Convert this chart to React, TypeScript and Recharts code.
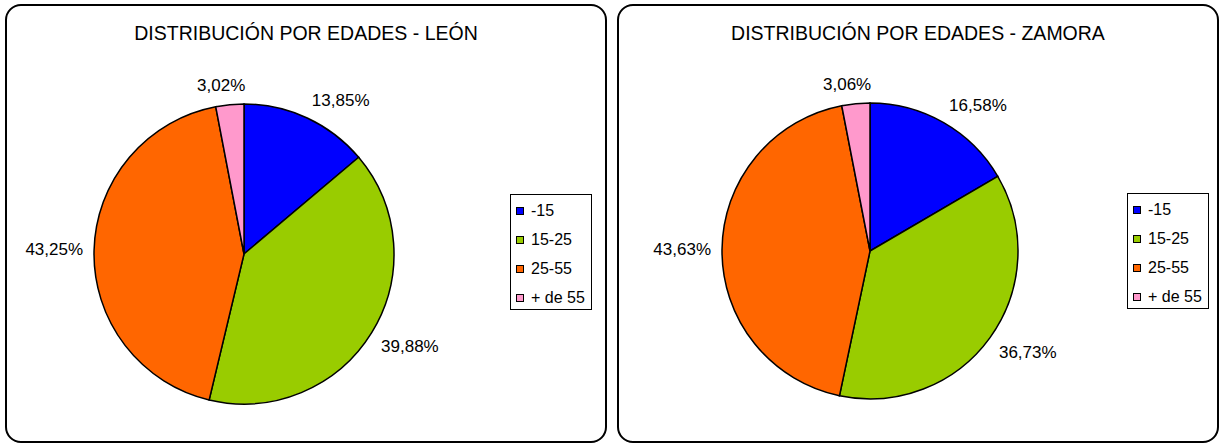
import React from 'react';
import { PieChart, Pie, Cell, Legend } from 'recharts';

const categories = ['-15', '15-25', '25-55', '+ de 55'];
const leonValues = [13.85, 39.88, 43.25, 3.02];
const zamoraValues = [16.58, 36.73, 43.63, 3.06];
const colors = ['#0000FF', '#99CC00', '#FF6600', '#FF99CC'];
const leonTitle = 'DISTRIBUCIÓN POR EDADES - LEÓN';
const zamoraTitle = 'DISTRIBUCIÓN POR EDADES - ZAMORA';

const FONT = 'Arial, "Liberation Sans", sans-serif';
const LABEL_SIZE = 17;

const charW = (c: string) => {
  if (/[0-9]/.test(c)) return 0.556;
  if (c === ',') return 0.278;
  if (c === '%') return 0.889;
  return 0.556;
};
const textWidth = (s: string, size: number) =>
  s.split('').reduce((a, c) => a + charW(c), 0) * size;

const fmt = (v: number) => v.toFixed(2).replace('.', ',') + '%';

const clamp = (v: number) => Math.max(-1, Math.min(1, v));

const renderLabel = (props: any) => {
  const { cx, cy, midAngle, outerRadius, value } = props;
  const rad = (midAngle * Math.PI) / 180;
  const R = outerRadius + 11;
  const px = cx + R * Math.cos(rad);
  const py = cy - R * Math.sin(rad);
  const txt = fmt(value);
  const w = textWidth(txt, LABEL_SIZE);
  const h = 16;
  const fx = clamp(Math.cos(rad) * 3.3);
  const fy = clamp(Math.sin(rad) * 3.3);
  const tx = px + (w / 2) * fx;
  const ty = py - (h / 2) * fy;
  return (
    <text
      x={tx}
      y={ty}
      textAnchor="middle"
      dominantBaseline="central"
      fontFamily={FONT}
      fontSize={LABEL_SIZE}
      fill="#000"
    >
      {txt}
    </text>
  );
};

const renderLegend = (props: any) => {
  const payload = [...(props.payload || [])].sort(
    (a: any, b: any) => categories.indexOf(a.value) - categories.indexOf(b.value)
  );
  return (
    <div
      style={{
        width: 82,
        height: 116,
        boxSizing: 'border-box',
        border: '1px solid #000',
        background: '#fff',
        position: 'relative',
        fontFamily: FONT,
        fontSize: 16,
        color: '#000',
      }}
    >
      {payload.map((p: any, i: number) => (
        <div
          key={i}
          style={{
            position: 'absolute',
            left: 0,
            top: 16 + i * 29 - 9,
            height: 18,
            display: 'flex',
            alignItems: 'center',
            whiteSpace: 'nowrap',
          }}
        >
          <span
            style={{
              display: 'inline-block',
              width: 8,
              height: 8,
              boxSizing: 'border-box',
              border: '1px solid #000',
              background: p.color,
              marginLeft: 5,
              marginRight: 7,
            }}
          />
          <span>{p.value}</span>
        </div>
      ))}
    </div>
  );
};

type PanelProps = {
  left: number;
  top: number;
  width: number;
  height: number;
  title: string;
  values: number[];
  cx: number;
  cy: number;
  r: number;
  legendLeft: number;
  legendTop: number;
};

const Panel = ({ left, top, width, height, title, values, cx, cy, r, legendLeft, legendTop }: PanelProps) => {
  const data = categories.map((c, i) => ({ name: c, value: values[i] }));
  return (
    <div style={{ position: 'absolute', left, top, width, height }}>
      <div
        style={{
          position: 'absolute',
          left: 0,
          top: 0,
          width,
          height,
          boxSizing: 'border-box',
          border: '2px solid #000',
          borderRadius: 16,
          background: '#fff',
        }}
      />
      <div
        style={{
          position: 'absolute',
          left: 0,
          top: 18,
          width,
          textAlign: 'center',
          fontFamily: FONT,
          fontSize: 19.5,
          color: '#000',
          lineHeight: '22px',
        }}
      >
        {title}
      </div>
      <div style={{ position: 'absolute', left: 0, top: 0 }}>
        <PieChart width={width} height={height} margin={{ top: 0, right: 0, bottom: 0, left: 0 }}>
          <Pie
            data={data}
            dataKey="value"
            nameKey="name"
            cx={cx}
            cy={cy}
            outerRadius={r}
            startAngle={90}
            endAngle={-270}
            stroke="#000"
            strokeWidth={1.5}
            label={renderLabel}
            labelLine={false}
            isAnimationActive={false}
          >
            {data.map((d, i) => (
              <Cell key={d.name} fill={colors[i]} />
            ))}
          </Pie>
          <Legend
            content={renderLegend}
            layout="vertical"
            align="right"
            verticalAlign="middle"
            wrapperStyle={{ position: 'absolute', left: legendLeft, top: legendTop, width: 82, height: 116, right: 'auto', bottom: 'auto' }}
          />
        </PieChart>
      </div>
    </div>
  );
};

export default function App() {
  return (
    <div style={{ position: 'absolute', left: 0, top: 0, width: 1222, height: 446, background: '#fff' }}>
      <Panel
        left={5}
        top={4}
        width={602}
        height={439}
        title={leonTitle}
        values={leonValues}
        cx={239}
        cy={250}
        r={150}
        legendLeft={505}
        legendTop={190}
      />
      <Panel
        left={617}
        top={4}
        width={602}
        height={439}
        title={zamoraTitle}
        values={zamoraValues}
        cx={253}
        cy={247}
        r={148}
        legendLeft={510}
        legendTop={189}
      />
    </div>
  );
}
